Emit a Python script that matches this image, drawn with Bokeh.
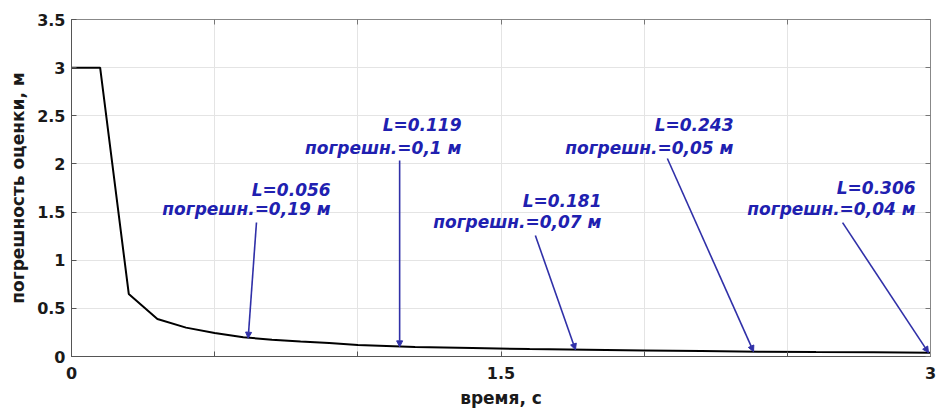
from bokeh.plotting import figure
from bokeh.models import (LinearAxis, FixedTicker, CustomJSTickFormatter, Arrow,
                          NormalHead, ColumnDataSource)
from bokeh.core.properties import value
from bokeh.embed import file_html
from bokeh.resources import INLINE

# Estimation error versus time
time_s = [0, 0.1, 0.2, 0.3, 0.4, 0.5, 0.6, 0.7, 0.8, 0.9, 1.0, 1.2, 1.4, 1.6,
          1.8, 2.0, 2.2, 2.4, 2.6, 2.8, 3.0]
error_m = [3.0, 3.0, 0.65, 0.39, 0.30, 0.245, 0.20, 0.175, 0.155, 0.14, 0.12,
           0.098, 0.088, 0.078, 0.07, 0.063, 0.057, 0.05, 0.046, 0.043, 0.04]

# Marked points: parameter L, time and error at that time
ann_L = [0.056, 0.119, 0.181, 0.243, 0.306]
ann_t = [0.617, 1.146, 1.76, 2.382, 2.993]
ann_err = [0.19, 0.1, 0.07, 0.05, 0.04]

x_labelled = [0, 1.5, 3]
x_unlabelled = [0.5, 1.0, 2.0, 2.5]
x_all = [0, 0.5, 1.0, 1.5, 2.0, 2.5, 3.0]
y_ticks = [0, 0.5, 1.0, 1.5, 2.0, 2.5, 3.0, 3.5]

# label placement (right edge of text block, two rows) and arrow tails
label_x = [0.905, 1.362, 1.851, 2.312, 2.948]
label_y_top = [1.734, 2.409, 1.610, 2.409, 1.745]
label_y_bot = [1.527, 2.170, 1.402, 2.170, 1.527]
tail_x = [0.646, 1.146, 1.62, 2.081, 2.693]
tail_y = [1.392, 2.035, 1.257, 2.056, 1.39]

BLUE = "#2020b0"
ARROW = "#3030a8"
FONT = "DejaVu Sans"
TICK = "#555555"

p = figure(width=936, height=410, x_range=(0, 3), y_range=(0, 3.5),
           output_backend="svg", toolbar_location=None,
           min_border_left=71, min_border_right=6, min_border_top=19,
           min_border_bottom=54)
p.background_fill_color = "white"
p.border_fill_color = "white"
p.outline_line_color = "#666666"
p.outline_line_width = 1

# x: labels only at 0, 1.5 and 3; the other half-second marks as same-size minor ticks
xt = FixedTicker(ticks=x_labelled, minor_ticks=x_unlabelled)
yt = FixedTicker(ticks=y_ticks, minor_ticks=[])
num_fmt = CustomJSTickFormatter(code="return tick.toString();")

for ax, tk in ((p.xaxis[0], xt), (p.yaxis[0], yt)):
    ax.ticker = tk
    ax.formatter = num_fmt
    ax.major_tick_in = 5
    ax.major_tick_out = 0
    ax.minor_tick_in = 5
    ax.minor_tick_out = 0
    ax.minor_tick_line_color = TICK
    ax.axis_line_color = TICK
    ax.major_tick_line_color = TICK
    ax.major_label_text_font = FONT
    ax.major_label_text_font_style = "bold"
    ax.major_label_text_font_size = "16px"
    ax.major_label_text_color = "#1a1a1a"
    ax.axis_label_text_font = FONT
    ax.axis_label_text_font_style = "bold"
    ax.axis_label_text_font_size = "17px"
    ax.axis_label_text_color = "#1a1a1a"

p.xaxis.axis_label = "время, с"
p.yaxis.axis_label = "погрешность оценки, м"
p.xaxis.major_label_standoff = 10
p.xaxis.axis_label_standoff = 6
p.yaxis.major_label_standoff = 6
p.yaxis.axis_label_standoff = 6

# box axes on top and right: tick marks only, no labels
for side, ticks in (("right", y_ticks), ("above", x_all)):
    ax = LinearAxis(ticker=FixedTicker(ticks=[], minor_ticks=ticks),
                    major_label_standoff=0, major_tick_in=0, major_tick_out=0,
                    minor_tick_in=5, minor_tick_out=0,
                    axis_line_color="#888888", minor_tick_line_color="#777777")
    p.add_layout(ax, side)

p.xgrid.ticker = xt
p.ygrid.ticker = yt
p.xgrid.grid_line_color = "#e4e4e4"
p.xgrid.minor_grid_line_color = "#e4e4e4"
p.ygrid.grid_line_color = "#e4e4e4"

p.line(time_s, error_m, line_color="black", line_width=2)

for i in range(len(ann_L)):
    p.add_layout(Arrow(x_start=tail_x[i], y_start=tail_y[i],
                       x_end=ann_t[i], y_end=ann_err[i],
                       line_color=ARROW, line_width=1.6,
                       end=NormalHead(size=6, fill_color=ARROW, line_color=ARROW)))

top_text = [f"L={v}" for v in ann_L]
bot_text = ["погрешн.=" + f"{v:g}".replace(".", ",") + " м" for v in ann_err]

src = ColumnDataSource(dict(x=label_x, yt=label_y_top, yb=label_y_bot,
                            top=top_text, bot=bot_text))
for ycol, tcol in (("yt", "top"), ("yb", "bot")):
    p.text(x="x", y=ycol, text=tcol, source=src, text_color=BLUE,
           text_font=value(FONT), text_font_style="bold italic",
           text_font_size="17px", text_align="right", text_baseline="middle")

open("out.html", "w").write(file_html(p, INLINE))
